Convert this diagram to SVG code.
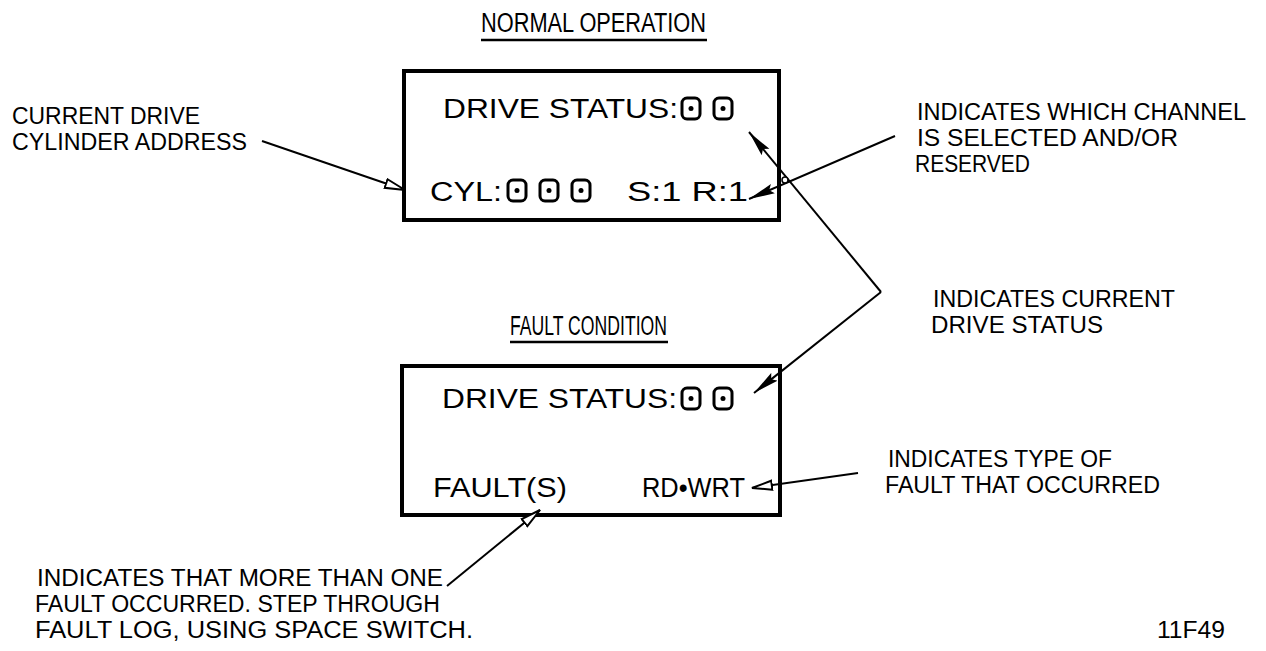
<svg xmlns="http://www.w3.org/2000/svg" width="1266" height="651" viewBox="0 0 1266 651">
<style>
  text { font-family: "Liberation Sans", Arial, sans-serif; font-size: 27px; fill: #000; }
  .lbl { font-size: 23px; }
  .box { fill: none; stroke: #000; stroke-width: 4; }
  .ul { stroke: #000; stroke-width: 2.5; }
  .con { fill: none; stroke: #000; stroke-width: 2; }
  .dig { fill: none; stroke: #000; stroke-width: 3; }
  .dot { fill: #000; }
</style>
<defs>
  <marker id="af" viewBox="0 0 26 11" refX="26" refY="5.5" markerWidth="26" markerHeight="11" markerUnits="userSpaceOnUse" orient="auto">
    <path d="M0,0.5 L26,5.5 L0,10.5 L4,5.5 Z" fill="#000"/>
  </marker>
  <marker id="ao" viewBox="0 0 22 12" refX="21" refY="6" markerWidth="22" markerHeight="12" markerUnits="userSpaceOnUse" orient="auto">
    <path d="M1,1.5 L21,6 L1,10.5 Z" fill="#fff" stroke="#000" stroke-width="2"/>
  </marker>
  <g id="digit">
    <rect x="0" y="0" width="18" height="21" rx="5" class="dig"/>
    <circle cx="9" cy="10.5" r="2.5" class="dot"/>
  </g>
</defs>

<g id="title-normal">
  <text x="481" y="32" textLength="225" lengthAdjust="spacingAndGlyphs">NORMAL OPERATION</text>
  <line x1="481" y1="40" x2="707" y2="40" class="ul"/>
</g>

<g id="normal-box">
  <rect x="404" y="71" width="375" height="149" class="box"/>
  <text x="443" y="118" textLength="235" lengthAdjust="spacingAndGlyphs">DRIVE STATUS:</text>
  <use href="#digit" x="682" y="98"/>
  <use href="#digit" x="714" y="98"/>
  <text x="430" y="201" textLength="72" lengthAdjust="spacingAndGlyphs">CYL:</text>
  <use href="#digit" x="508" y="180"/>
  <use href="#digit" x="540" y="180"/>
  <use href="#digit" x="572" y="180"/>
  <text x="627" y="201" textLength="121" lengthAdjust="spacingAndGlyphs">S:1 R:1</text>
</g>

<g id="label-cylinder" class="lbl">
  <text class="lbl" x="12" y="124" textLength="188" lengthAdjust="spacingAndGlyphs">CURRENT DRIVE</text>
  <text class="lbl" x="12" y="150" textLength="235" lengthAdjust="spacingAndGlyphs">CYLINDER ADDRESS</text>
</g>

<g id="label-channel">
  <text class="lbl" x="917" y="120" textLength="329" lengthAdjust="spacingAndGlyphs">INDICATES WHICH CHANNEL</text>
  <text class="lbl" x="917" y="146" textLength="261" lengthAdjust="spacingAndGlyphs">IS SELECTED AND/OR</text>
  <text class="lbl" x="915" y="172" textLength="115" lengthAdjust="spacingAndGlyphs">RESERVED</text>
</g>

<g id="label-status">
  <text class="lbl" x="933" y="307" textLength="242" lengthAdjust="spacingAndGlyphs">INDICATES CURRENT</text>
  <text class="lbl" x="931" y="333" textLength="172" lengthAdjust="spacingAndGlyphs">DRIVE STATUS</text>
</g>

<g id="title-fault">
  <text x="510" y="335" textLength="157" lengthAdjust="spacingAndGlyphs">FAULT CONDITION</text>
  <line x1="510" y1="342" x2="668" y2="342" class="ul"/>
</g>

<g id="fault-box">
  <rect x="402" y="366" width="378" height="149" class="box"/>
  <text x="442" y="408" textLength="235" lengthAdjust="spacingAndGlyphs">DRIVE STATUS:</text>
  <use href="#digit" x="682" y="388"/>
  <use href="#digit" x="714" y="388"/>
  <text x="433" y="497" textLength="134" lengthAdjust="spacingAndGlyphs">FAULT(S)</text>
  <text x="642" y="497" textLength="103" lengthAdjust="spacingAndGlyphs">RD•WRT</text>
</g>

<g id="label-type">
  <text class="lbl" x="888" y="467" textLength="224" lengthAdjust="spacingAndGlyphs">INDICATES TYPE OF</text>
  <text class="lbl" x="885" y="493" textLength="275" lengthAdjust="spacingAndGlyphs">FAULT THAT OCCURRED</text>
</g>

<g id="label-faults">
  <text class="lbl" x="37" y="586" textLength="406" lengthAdjust="spacingAndGlyphs">INDICATES THAT MORE THAN ONE</text>
  <text class="lbl" x="35" y="612" textLength="405" lengthAdjust="spacingAndGlyphs">FAULT OCCURRED. STEP THROUGH</text>
  <text class="lbl" x="35" y="638" textLength="438" lengthAdjust="spacingAndGlyphs">FAULT LOG, USING SPACE SWITCH.</text>
</g>

<g id="fig-number">
  <text class="lbl" x="1157" y="638" textLength="68" lengthAdjust="spacingAndGlyphs">11F49</text>
</g>

<g id="connectors">
  <line x1="262" y1="141" x2="405" y2="190" class="con" marker-end="url(#ao)"/>
  <line x1="895" y1="136" x2="749" y2="199" class="con" marker-end="url(#af)"/>
  <line x1="881" y1="292" x2="749" y2="132" class="con" marker-end="url(#af)"/>
  <line x1="881" y1="292" x2="754" y2="393" class="con" marker-end="url(#af)"/>
  <line x1="858" y1="473" x2="752" y2="488" class="con" marker-end="url(#ao)"/>
  <line x1="447" y1="586" x2="540" y2="510" class="con" marker-end="url(#ao)"/>
  <circle cx="785" cy="180" r="3" fill="#fff" stroke="#000" stroke-width="1.5"/>
</g>
</svg>
